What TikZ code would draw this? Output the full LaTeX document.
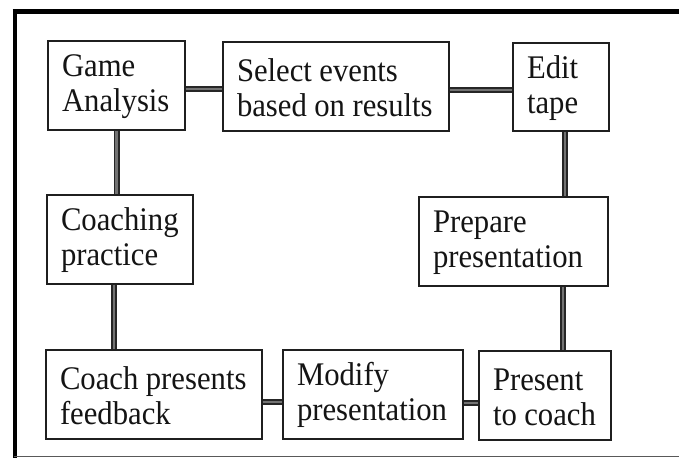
\documentclass[tikz,border=0pt]{standalone}
\usepackage{fontspec}
\setmainfont{Liberation Serif}[FakeStretch=0.93]
\newcommand{\topstrut}{\rule{0pt}{25pt}}
\newcommand{\wsp}{\hspace{7.5pt}}
\begin{document}
\begin{tikzpicture}[x=1pt,y=-1pt,
  box/.style={draw=black!88, line width=1.3pt, fill=white, inner xsep=0pt, inner ysep=0pt,
    align=left, font=\fontsize{33}{35}\selectfont, text=black!92},
  link/.style={draw=black!85, line width=1.9pt, double=black!55, double distance=2.2pt}]
\useasboundingbox (0,0) rectangle (679,458);
% frame
\draw[line width=4pt, black] (14.5,9.5) -- (14.5,458);
\draw[line width=4.5pt, black] (12.5,11.7) -- (679,11.7);
\draw[line width=1.5pt, black!65] (14,456.6) -- (679,456.6);
% boxes
\node[box, minimum width=137pt, minimum height=89pt, text width=109pt] (ga) at (116.5,85.5) {\topstrut\mbox{Game}\\\mbox{Analysis}};
\node[box, minimum width=226pt, minimum height=89pt, text width=198pt] (se) at (336,86.5) {\topstrut\mbox{Select\wsp events}\\\mbox{based\wsp on\wsp results}};
\node[box, minimum width=96pt, minimum height=88pt, text width=68pt] (et) at (561,87) {\topstrut\mbox{Edit}\\\mbox{tape}};
\node[box, minimum width=146pt, minimum height=89pt, text width=118pt] (cp) at (120,239.5) {\topstrut\mbox{Coaching}\\\mbox{practice}};
\node[box, minimum width=189pt, minimum height=89pt, text width=161pt] (pp) at (513.5,241.5) {\topstrut\mbox{Prepare}\\\mbox{presentation}};
\node[box, minimum width=216pt, minimum height=89pt, text width=188pt] (cpf) at (154,394.5) {\topstrut\mbox{Coach\wsp presents}\\\mbox{feedback}};
\node[box, minimum width=180pt, minimum height=89pt, text width=152pt] (mp) at (373,394.5) {\topstrut\mbox{Modify}\\\mbox{presentation}};
\node[box, minimum width=132pt, minimum height=89pt, text width=104pt] (ptc) at (545,395.5) {\topstrut\mbox{Present}\\\mbox{to\wsp coach}};
% connectors
\draw[link] ([yshift=-3.5pt]ga.east) -- ([yshift=-3.5pt]ga.east -| se.west);
\draw[link] ([yshift=-3.5pt]se.east) -- ([yshift=-3.5pt]se.east -| et.west);
\draw[link] (ga.south) -- (ga.south |- cp.north);
\draw[link] ([xshift=-6pt]cp.south) -- ([xshift=-6pt]cp.south |- cpf.north);
\draw[link] ([xshift=4pt]et.south) -- ([xshift=4pt]et.south |- pp.north);
\draw[link] ([xshift=2pt]et.south |- pp.south) -- ([xshift=2pt]et.south |- ptc.north);
\draw[link] ([yshift=-7.5pt]cpf.east) -- ([yshift=-7.5pt]cpf.east -| mp.west);
\draw[link] ([yshift=-8.5pt]mp.east) -- ([yshift=-8.5pt]mp.east -| ptc.west);
\end{tikzpicture}
\end{document}
